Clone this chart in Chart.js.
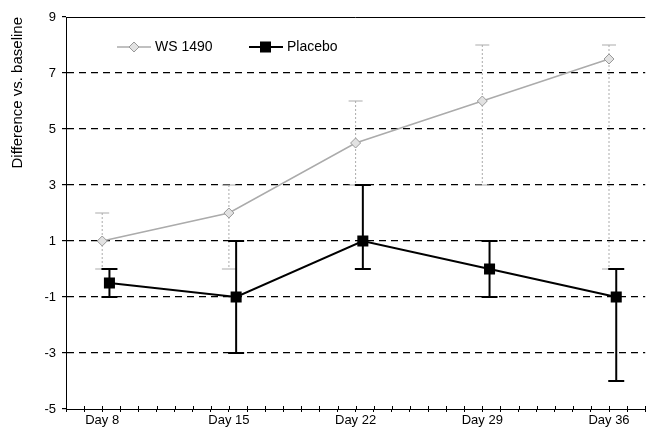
<!DOCTYPE html>
<html>
<head>
<meta charset="utf-8">
<script src="https://cdn.jsdelivr.net/npm/chart.js@4"></script>
<style>
  html, body { margin: 0; padding: 0; background: #fff; }
  #wrap { width: 653px; height: 434px; }
</style>
</head>
<body>
<div id="wrap"><canvas id="chart" width="653" height="434"></canvas></div>
<script>
const days = [8, 15, 22, 29, 36];
const dayLabels = ["Day 8", "Day 15", "Day 22", "Day 29", "Day 36"];

const wsMean = [1, 2, 4.5, 6, 7.5];
const wsLow = [0, 0, 3, 3, 0];
const wsHigh = [2, 3, 6, 8, 8];

const placeboMean = [-0.5, -1, 1, 0, -1];
const placeboLow = [-1, -3, 0, -1, -4];
const placeboHigh = [0, 1, 3, 1, 0];

const yTicks = [-5, -3, -1, 1, 3, 5, 7, 9];

const FONT = "'Liberation Sans', Arial, sans-serif";
const WS_COLOR = "#ababab";

// placebo points sit a little right of the day, like in the original
const placeboShift = 0.4;

function toPoints(means, shift) {
  return days.map((d, i) => ({ x: d + shift, y: means[i] }));
}

const errorBars = {
  id: "errorBars",
  beforeDatasetsDraw(chart) {
    const { ctx, scales: { x, y } } = chart;
    const sets = [
      { low: wsLow, high: wsHigh, shift: 0, color: WS_COLOR, width: 1, dash: [2, 2], cap: 7 },
      { low: placeboLow, high: placeboHigh, shift: placeboShift, color: "#000", width: 2, dash: [], cap: 8 }
    ];
    sets.forEach(s => {
      ctx.save();
      ctx.strokeStyle = s.color;
      ctx.lineWidth = s.width;
      days.forEach((d, i) => {
        const px = x.getPixelForValue(d + s.shift);
        const top = y.getPixelForValue(s.high[i]);
        const bot = y.getPixelForValue(s.low[i]);
        ctx.setLineDash(s.dash);
        ctx.beginPath();
        ctx.moveTo(px, top);
        ctx.lineTo(px, bot);
        ctx.stroke();
        ctx.setLineDash([]);
        ctx.beginPath();
        ctx.moveTo(px - s.cap, top);
        ctx.lineTo(px + s.cap, top);
        ctx.moveTo(px - s.cap, bot);
        ctx.lineTo(px + s.cap, bot);
        ctx.stroke();
      });
      ctx.restore();
    });
  }
};

const frameAndLegend = {
  id: "frameAndLegend",
  afterDraw(chart) {
    const { ctx, chartArea, scales: { x } } = chart;
    ctx.save();
    // solid top line
    ctx.strokeStyle = "#000";
    ctx.lineWidth = 1;
    ctx.beginPath();
    ctx.moveTo(chartArea.left, chartArea.top + 0.5);
    ctx.lineTo(chartArea.right, chartArea.top + 0.5);
    ctx.stroke();

    // small tick stubs above the x axis (the original ticks cross it)
    ctx.beginPath();
    for (let d = 6; d <= 38; d++) {
      const px = Math.round(x.getPixelForValue(d)) + 0.5;
      ctx.moveTo(px, chartArea.bottom);
      ctx.lineTo(px, chartArea.bottom - 3);
    }
    ctx.stroke();

    // legend
    const ly = 47;
    ctx.font = "14px " + FONT;
    ctx.textBaseline = "middle";

    ctx.strokeStyle = WS_COLOR;
    ctx.lineWidth = 1.5;
    ctx.beginPath();
    ctx.moveTo(117, ly);
    ctx.lineTo(151, ly);
    ctx.stroke();
    ctx.fillStyle = "#e2e2e2";
    ctx.strokeStyle = "#999";
    ctx.lineWidth = 1;
    ctx.beginPath();
    ctx.moveTo(134, ly - 5); ctx.lineTo(139, ly); ctx.lineTo(134, ly + 5); ctx.lineTo(129, ly);
    ctx.closePath();
    ctx.fill();
    ctx.stroke();
    ctx.fillStyle = "#000";
    ctx.fillText("WS 1490", 155, ly);

    ctx.strokeStyle = "#000";
    ctx.lineWidth = 2;
    ctx.beginPath();
    ctx.moveTo(249, ly);
    ctx.lineTo(283, ly);
    ctx.stroke();
    ctx.fillRect(260, ly - 5.5, 11, 11);
    ctx.fillText("Placebo", 287, ly);
    ctx.restore();
  }
};

new Chart(document.getElementById("chart"), {
  type: "scatter",
  data: {
    datasets: [
      {
        label: "WS 1490",
        data: toPoints(wsMean, 0),
        showLine: true,
        borderColor: WS_COLOR,
        borderWidth: 1.5,
        pointStyle: "rectRot",
        pointRadius: 5,
        pointBackgroundColor: "#e2e2e2",
        pointBorderColor: "#999",
        pointBorderWidth: 1
      },
      {
        label: "Placebo",
        data: toPoints(placeboMean, placeboShift),
        showLine: true,
        borderColor: "#000",
        borderWidth: 2,
        pointStyle: "rect",
        pointRadius: 7.8,
        pointBackgroundColor: "#000",
        pointBorderColor: "#000",
        pointBorderWidth: 0
      }
    ]
  },
  options: {
    responsive: false,
    animation: false,
    layout: { padding: { top: 17, right: 0, left: 0, bottom: 0 } },
    plugins: {
      legend: { display: false },
      tooltip: { enabled: false }
    },
    scales: {
      x: {
        type: "linear",
        min: 6,
        max: 38,
        afterFit(scale) { scale.height = 25; },
        afterBuildTicks(scale) {
          const t = [];
          for (let d = 6; d <= 38; d++) t.push({ value: d });
          scale.ticks = t;
        },
        ticks: {
          autoSkip: false,
          maxRotation: 0,
          color: "#000",
          font: { family: FONT, size: 13 },
          padding: 1,
          callback(v) {
            const i = days.indexOf(v);
            return i >= 0 ? dayLabels[i] : "";
          }
        },
        grid: { drawOnChartArea: false, drawTicks: true, tickLength: 3, color: "#000" },
        border: { color: "#000", width: 1 }
      },
      y: {
        min: -5,
        max: 9,
        afterFit(scale) { scale.width = 66; },
        afterBuildTicks(scale) {
          scale.ticks = yTicks.map(v => ({ value: v }));
        },
        title: {
          display: true,
          text: "Difference vs. baseline",
          align: "end",
          color: "#000",
          font: { family: FONT, size: 15 },
          padding: { top: 9, bottom: 0 }
        },
        ticks: {
          color: "#000",
          font: { family: FONT, size: 13 },
          padding: 6
        },
        grid: {
          color: ctx => (ctx.tick && (ctx.tick.value === -5 || ctx.tick.value === 9)) ? "rgba(0,0,0,0)" : "#000",
          tickColor: "#000",
          lineWidth: 1.2,
          tickLength: 4
        },
        border: { color: "#000", width: 1, dash: [7, 5] }
      }
    }
  },
  plugins: [errorBars, frameAndLegend]
});
</script>
</body>
</html>
